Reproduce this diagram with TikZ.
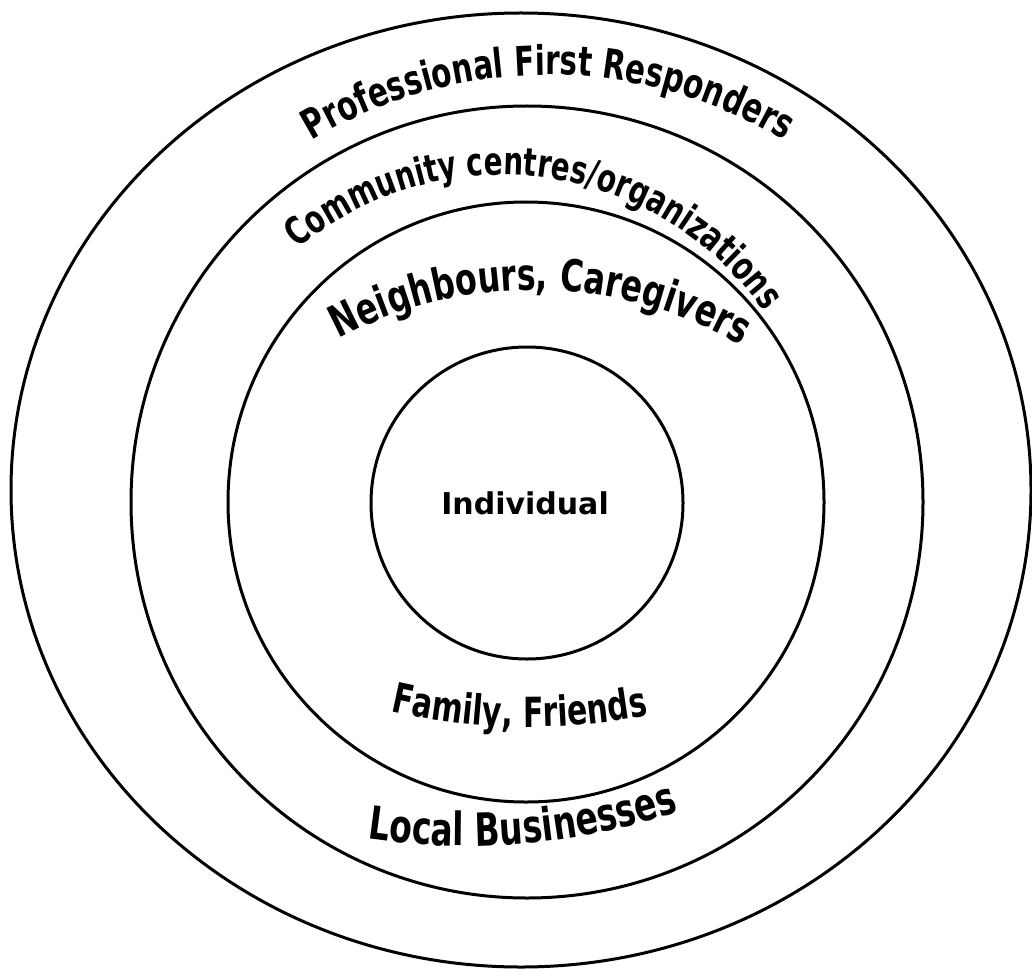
\documentclass[tikz,border=0pt]{standalone}
\usepackage{fontspec}
\setmainfont{DejaVu Sans}
\newfontfamily\arcfont[FakeStretch=0.72]{DejaVu Sans Bold}
\usetikzlibrary{decorations.text}
\tikzset{
  ring/.style={draw=black, line width=3pt},
  arclabel/.style 2 args={decorate, decoration={text along path, text align=center,
     text={|\arcfont\fontsize{#1}{#1}\selectfont|#2}}}
}
\begin{document}
\begin{tikzpicture}[x=1pt,y=1pt]
\useasboundingbox (0,0) rectangle (1032,-968);
\fill[white] (0,0) rectangle (1032,-968);
% rings
\draw[ring] (521,-490) ellipse [x radius=510, y radius=477];
\draw[ring] (527,-502) circle [radius=396];
\draw[ring] (526,-502) ellipse [x radius=298, y radius=300];
\draw[ring] (527,-503) circle [radius=156];
% labels
\path[arclabel={40.8}{Professional First Responders}]
  ([shift={(548,-534)}]150:459) arc[start angle=150, end angle=30, radius=459];
\path[arclabel={38.6}{Community centres/organizations}]
  ([shift={(502,-495)}]142:320) arc[start angle=142, end angle=22.7, radius=320];
\path[arclabel={44}{Neighbours, Caregivers}]
  ([shift={(534,-705)}]130:415) arc[start angle=130, end angle=48.2, radius=415];
\path[arclabel={41.5}{Family, Friends}]
  ([shift={(530,-117)}]229:610) arc[start angle=229, end angle=309, radius=610];
\path[arclabel={45.8}{Local Businesses}]
  ([shift={(466,-173)}]235:673) arc[start angle=235, end angle=315, radius=673];
\node[font=\bfseries\fontsize{30}{30}\selectfont, inner sep=0pt] (individual) at (525,-503.5) {Individual};
\end{tikzpicture}
\end{document}
